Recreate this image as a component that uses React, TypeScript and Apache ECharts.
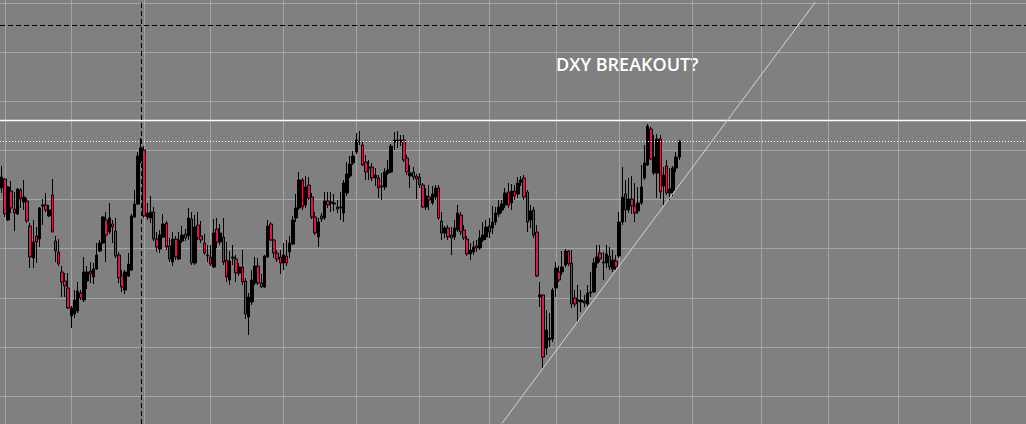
import React, { useEffect, useRef } from 'react';
import * as echarts from 'echarts';

// ---- Data (prices, one candle per slot) ----
const opens = [
  98.12,98.21,97.80,98.09,97.91,97.86,98.10,97.98,97.99,97.74,
  97.42,97.64,97.61,97.94,97.95,97.84,98.05,97.59,97.48,97.28,
  97.19,97.12,96.84,96.86,96.89,97.07,97.00,97.19,97.29,97.23,
  97.31,97.49,97.57,97.80,97.68,97.76,97.69,97.45,97.24,97.10,
  97.24,97.30,97.83,97.96,98.39,98.50,97.83,97.82,97.88,97.61,
  97.51,97.63,97.77,97.54,97.38,97.61,97.41,97.59,97.66,97.64,
  97.81,97.37,97.75,97.64,97.57,97.44,97.43,97.33,97.71,97.58,
  97.63,97.40,97.20,97.42,97.41,97.27,97.33,97.19,96.83,96.98,
  97.17,97.34,97.17,97.13,97.43,97.76,97.60,97.47,97.43,97.37,
  97.44,97.48,97.56,97.82,97.92,98.20,97.95,98.15,98.03,97.83,
  97.63,97.84,97.82,97.99,97.97,97.96,97.93,97.92,97.87,98.07,
  98.24,98.37,98.48,98.59,98.55,98.38,98.32,98.33,98.22,98.22,
  98.13,98.13,98.27,98.28,98.58,98.60,98.58,98.60,98.42,98.24,
  98.28,98.24,98.23,98.15,97.93,98.03,97.97,98.03,98.12,97.79,
  97.67,97.72,97.65,97.63,97.70,97.85,97.70,97.61,97.46,97.48,
  97.54,97.52,97.60,97.63,97.74,97.72,97.78,97.86,97.90,97.95,
  98.08,97.97,98.09,98.06,98.18,98.22,98.08,97.80,97.90,97.68,
  97.03,97.05,96.52,96.60,96.61,97.12,97.28,97.28,97.35,97.49,
  97.37,97.02,96.99,96.98,96.99,96.96,97.07,97.08,97.37,97.47,
  97.37,97.37,97.44,97.31,97.39,97.44,97.78,98.06,97.90,98.01,
  97.94,97.89,97.97,98.22,98.35,98.71,98.27,98.27,98.61,98.14,
  98.34,98.07,98.09,98.32,98.43,
];
const closes = [
  98.23,97.86,98.13,97.92,97.87,98.11,98.01,98.03,97.79,97.43,
  97.58,97.58,97.92,97.95,97.90,97.90,97.68,97.49,97.36,97.18,
  97.14,96.92,96.92,97.00,97.09,97.02,97.28,97.28,97.26,97.31,
  97.45,97.57,97.83,97.65,97.82,97.73,97.44,97.22,97.13,97.28,
  97.36,97.84,97.96,98.44,98.52,97.84,97.87,97.88,97.61,97.53,
  97.65,97.76,97.53,97.41,97.61,97.43,97.60,97.65,97.62,97.82,
  97.37,97.73,97.62,97.60,97.47,97.45,97.36,97.67,97.58,97.67,
  97.38,97.23,97.39,97.43,97.27,97.33,97.18,96.86,97.03,97.20,
  97.34,97.17,97.13,97.44,97.74,97.60,97.47,97.41,97.37,97.45,
  97.37,97.57,97.80,97.92,98.20,97.93,98.13,98.02,97.83,97.67,
  97.78,97.81,97.99,97.95,97.98,97.97,97.91,97.93,98.17,98.26,
  98.36,98.44,98.60,98.58,98.35,98.28,98.33,98.22,98.25,98.12,
  98.14,98.28,98.30,98.54,98.60,98.59,98.60,98.40,98.28,98.27,
  98.23,98.21,98.15,97.93,98.04,98.00,98.06,98.12,97.82,97.67,
  97.72,97.63,97.62,97.72,97.87,97.68,97.62,97.46,97.50,97.53,
  97.52,97.62,97.65,97.73,97.68,97.78,97.87,97.93,97.96,98.07,
  97.95,98.09,98.04,98.17,98.20,98.03,97.78,97.89,97.65,97.24,
  97.05,96.43,96.70,96.62,97.10,97.32,97.20,97.33,97.49,97.36,
  96.96,96.96,97.00,97.00,96.97,97.07,97.08,97.37,97.43,97.41,
  97.38,97.46,97.33,97.40,97.33,97.78,98.03,97.90,98.01,97.94,
  97.87,97.97,98.13,98.37,98.74,98.41,98.43,98.61,98.08,98.25,
  98.07,98.11,98.32,98.43,98.59,
];
const lows = [
  98.07,97.83,97.79,97.87,97.69,97.85,97.92,97.90,97.77,97.32,
  97.32,97.37,97.53,97.75,97.88,97.83,97.68,97.38,97.34,97.03,
  97.03,96.91,96.72,96.82,96.87,97.00,96.98,97.11,97.17,97.16,
  97.30,97.48,97.56,97.38,97.66,97.57,97.42,97.17,97.08,97.06,
  97.23,97.29,97.82,97.95,98.37,97.82,97.80,97.77,97.59,97.48,
  97.47,97.62,97.50,97.38,97.34,97.40,97.40,97.57,97.59,97.60,
  97.35,97.35,97.60,97.57,97.45,97.38,97.34,97.32,97.52,97.55,
  97.35,97.18,97.15,97.35,97.18,97.24,97.15,96.81,96.65,96.95,
  97.15,97.15,97.12,97.12,97.42,97.59,97.42,97.38,97.26,97.30,
  97.34,97.42,97.55,97.78,97.90,97.90,97.92,98.00,97.81,97.65,
  97.53,97.78,97.80,97.92,97.88,97.89,97.87,97.80,97.78,98.04,
  98.22,98.35,98.46,98.55,98.34,98.20,98.20,98.19,98.14,98.02,
  98.00,98.10,98.25,98.27,98.50,98.52,98.54,98.38,98.25,98.12,
  98.20,98.01,98.12,97.92,97.90,97.90,97.95,98.00,97.80,97.60,
  97.62,97.60,97.45,97.60,97.68,97.65,97.60,97.44,97.40,97.45,
  97.48,97.50,97.58,97.60,97.62,97.66,97.75,97.83,97.87,97.92,
  97.92,97.90,98.00,98.02,98.14,98.00,97.68,97.72,97.62,97.23,
  96.93,96.32,96.45,96.53,96.58,97.03,97.18,97.25,97.33,97.34,
  96.92,96.93,96.78,96.88,96.93,96.94,97.03,97.07,97.32,97.38,
  97.20,97.32,97.30,97.28,97.30,97.42,97.75,97.78,97.87,97.86,
  97.78,97.86,97.95,98.20,98.34,98.40,98.25,98.02,98.01,97.95,
  98.05,98.00,98.04,98.28,98.40,
];
const highs = [
  98.34,98.22,98.14,98.19,98.08,98.12,98.12,98.20,98.02,97.77,
  97.80,97.73,97.93,98.01,98.07,97.95,98.21,97.64,97.61,97.34,
  97.27,97.27,96.94,97.10,97.18,97.10,97.43,97.34,97.38,97.37,
  97.57,97.60,97.84,97.88,97.97,97.80,97.82,97.48,97.30,97.30,
  97.47,97.86,98.10,98.48,98.62,98.54,97.97,98.04,97.93,97.68,
  97.70,97.86,97.79,97.62,97.68,97.64,97.68,97.74,97.71,97.92,
  97.88,97.85,97.88,97.79,97.66,97.55,97.55,97.81,97.82,97.76,
  97.82,97.58,97.49,97.55,97.45,97.37,97.50,97.22,97.07,97.30,
  97.43,97.42,97.26,97.45,97.80,97.78,97.61,97.50,97.50,97.57,
  97.60,97.64,97.84,98.06,98.28,98.22,98.24,98.23,98.07,97.88,
  97.82,97.87,98.08,98.08,98.08,98.06,98.00,98.08,98.20,98.38,
  98.44,98.49,98.67,98.69,98.58,98.45,98.40,98.37,98.32,98.25,
  98.27,98.32,98.40,98.56,98.68,98.69,98.65,98.65,98.45,98.35,
  98.33,98.26,98.27,98.17,98.12,98.15,98.14,98.15,98.15,97.88,
  97.74,97.75,97.73,97.80,97.95,97.88,97.75,97.64,97.57,97.59,
  97.60,97.70,97.78,97.80,97.82,97.94,97.93,98.00,98.00,98.12,
  98.17,98.16,98.15,98.23,98.24,98.25,98.10,97.95,97.93,97.75,
  97.18,97.05,96.90,96.87,97.12,97.38,97.34,97.49,97.51,97.50,
  97.50,97.10,97.15,97.10,97.05,97.15,97.28,97.42,97.55,97.55,
  97.48,97.55,97.53,97.50,97.45,97.88,98.33,98.20,98.22,98.24,
  98.17,98.13,98.35,98.55,98.76,98.73,98.65,98.66,98.65,98.33,
  98.40,98.32,98.34,98.48,98.60,
];

// Total time slots visible on the chart (candles plus empty space to the right)
const slotCount = 324;
const slots = Array.from({ length: slotCount }, (_, i) => String(i));

// Horizontal price grid levels and vertical time grid slots
const priceGridLevels = [99.97, 99.48, 98.99, 98.50, 98.01, 97.52, 97.02, 96.53, 96.04];
const timeGridSlots = [1, 22, 45, 66, 89, 112, 132, 154, 175, 195, 218, 240, 261, 283, 306];

// Drawn levels / annotations
const resistanceLevel = 98.80;
const dottedLevel = 98.59;
const dashedLevel = 99.75;
const crosshairSlot = 44;
const trendStart: [number, number] = [158, 95.765];
const trendEnd: [number, number] = [257, 99.98];
const annotation = 'DXY BREAKOUT?';

const yMin = 95.76;
const yMax = 100.0;

export default function App() {
  const ref = useRef<HTMLDivElement>(null);
  useEffect(() => {
    if (!ref.current) return;
    const chart = echarts.init(ref.current, undefined, { renderer: 'svg' });
    const candles = opens.map((o, i) => [o, closes[i], lows[i], highs[i]]);
    chart.setOption({
      animation: false,
      backgroundColor: '#808080',
      grid: { left: 0, right: 0, top: 0, bottom: 0 },
      xAxis: {
        type: 'category',
        data: slots,
        boundaryGap: true,
        axisLine: { show: false },
        axisTick: { show: false },
        axisLabel: { show: false },
        splitLine: { show: false },
      },
      yAxis: {
        type: 'value',
        min: yMin,
        max: yMax,
        axisLine: { show: false },
        axisTick: { show: false },
        axisLabel: { show: false },
        splitLine: { show: false },
      },
      graphic: [
        {
          type: 'text',
          left: 556,
          top: 55,
          silent: true,
          style: {
            text: annotation,
            fill: '#ffffff',
            font: '600 18px "Open Sans"',
          },
        },
      ],
      series: [
        {
          type: 'line',
          data: [],
          silent: true,
          markLine: {
            z: 1,
            silent: true,
            symbol: ['none', 'none'],
            label: { show: false },
            lineStyle: { color: '#a4a4a4', width: 1, type: 'solid' },
            data: [
              ...priceGridLevels.map((v) => ({ yAxis: v })),
              ...timeGridSlots.map((s) => ({ xAxis: s })),
            ],
          },
        },
        {
          type: 'candlestick',
          data: candles,
          barWidth: 3,
          itemStyle: {
            color: '#000000',
            color0: '#e0164a',
            borderColor: '#000000',
            borderColor0: '#000000',
            borderWidth: 1,
          },
          markLine: {
            silent: true,
            symbol: ['none', 'none'],
            label: { show: false },
            data: [
              { yAxis: resistanceLevel, lineStyle: { color: '#ffffff', width: 1.3, type: 'solid' } },
              { yAxis: dottedLevel, lineStyle: { color: '#ffffff', width: 1, type: [1, 2] } },
              { yAxis: dashedLevel, lineStyle: { color: '#000000', width: 1, type: [5, 3] } },
              { xAxis: crosshairSlot, lineStyle: { color: '#000000', width: 1, type: [5, 3] } },
              [
                { coord: trendStart, lineStyle: { color: '#d4d4d4', width: 1, type: 'solid' } },
                { coord: trendEnd },
              ],
            ],
          },
        },
      ],
    });
    return () => chart.dispose();
  }, []);
  return (
    <div
      ref={ref}
      style={{ position: 'fixed', left: 0, top: 0, width: 1026, height: 424 }}
    />
  );
}
